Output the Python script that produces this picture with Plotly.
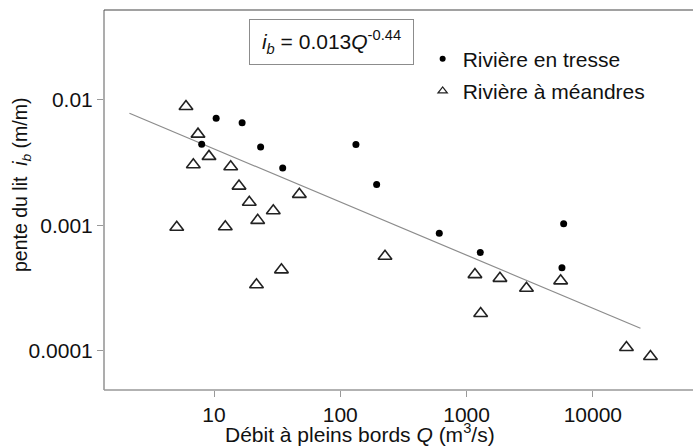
import plotly.graph_objects as go

# Braided rivers (dots)
braided_Q = [10.4, 7.99, 16.7, 23.4, 35.0, 133, 194, 608, 1284, 5871, 5692]
braided_ib = [0.00715, 0.00444, 0.00660, 0.00422, 0.00287, 0.00441, 0.00212,
              0.000868, 0.000608, 0.00103, 0.000460]

# Meandering rivers (triangles)
meander_Q = [6.00, 7.47, 9.13, 6.86, 13.56, 15.78, 19.03, 29.48, 22.18, 5.07, 12.29,
             47.4, 34.2, 21.7, 226, 1165, 1838, 2981, 5559, 1293, 18450, 28580]
meander_ib = [0.00888, 0.00534, 0.00355, 0.00305, 0.00294, 0.00206, 0.00153, 0.00131,
              0.001098, 0.000969, 0.000978, 0.00177, 0.000443, 0.000337, 0.000568,
              0.000406, 0.000379, 0.000316, 0.000362, 0.000199, 0.0001066, 0.0000904]

# Fitted line i_b = 0.013 Q^-0.44 (endpoints as drawn)
fit_Q = [2.14, 23820]
fit_ib = [0.00783, 0.0001516]

x_ticks = [10, 100, 1000, 10000]
x_ticktext = ["10", "100", "1000", "10000"]
y_ticks = [0.01, 0.001, 0.0001]
y_ticktext = ["0.01", "0.001", "0.0001"]

FONT = "Arial, Liberation Sans, sans-serif"
FS = 21

fig = go.Figure()
fig.add_trace(go.Scatter(x=fit_Q, y=fit_ib, mode="lines",
                         line=dict(color="#8c8c8c", width=1.2), showlegend=False,
                         hoverinfo="skip"))
fig.add_trace(go.Scatter(x=braided_Q, y=braided_ib, mode="markers",
                         marker=dict(symbol="circle", size=7, color="black"),
                         showlegend=False))
fig.add_trace(go.Scatter(x=meander_Q, y=meander_ib, mode="markers",
                         marker=dict(symbol="triangle-up-open", size=12, color="#222222",
                                     line=dict(width=1.6, color="#222222")),
                         showlegend=False))
# legend entries
fig.add_trace(go.Scatter(x=[None], y=[None], mode="markers", name="Rivière en tresse",
                         legendgroup="a",
                         marker=dict(symbol="circle", size=6, color="black")))
fig.add_trace(go.Scatter(x=[None], y=[None], mode="markers", name="Rivière à méandres",
                         legendgroup="b",
                         marker=dict(symbol="triangle-up-open", size=8, color="#222222",
                                     line=dict(width=1.3, color="#222222"))))

fig.update_layout(
    width=694, height=448,
    margin=dict(l=104, r=1, t=10, b=58),
    paper_bgcolor="white", plot_bgcolor="white",
    font=dict(family=FONT, size=FS, color="#111111"),
    legend=dict(x=0.541, y=0.925, xanchor="left", yanchor="top",
                bgcolor="rgba(0,0,0,0)", font=dict(size=FS), tracegroupgap=2),
    xaxis=dict(type="log", range=[0.129, 4.793], tickvals=x_ticks, ticktext=x_ticktext,
               ticks="outside", ticklen=6, tickcolor="#999999", tickwidth=1,
               showgrid=False, zeroline=False, showline=False),
    yaxis=dict(type="log", range=[-4.311, -1.283], tickvals=y_ticks, ticktext=y_ticktext,
               ticks="outside", ticklen=6, tickcolor="#999999", tickwidth=1,
               showgrid=False, zeroline=False, showline=False),
    shapes=[
        dict(type="line", xref="paper", yref="paper", x0=0, x1=0, y0=0, y1=1,
             line=dict(color="#999999", width=1.6)),
        dict(type="line", xref="paper", yref="paper", x0=0, x1=1, y0=0, y1=0,
             line=dict(color="#999999", width=1.6)),
        dict(type="line", xref="paper", yref="paper", x0=0, x1=1, y0=1, y1=1,
             line=dict(color="#444444", width=1.2)),
    ],
    annotations=[
        dict(text="<i>i<sub>b</sub></i> = 0.013<i>Q</i><sup>-0.44</sup>",
             xref="paper", yref="paper", x=(331.5 - 104) / 589, y=(390 - 42) / 380,
             xanchor="center", yanchor="middle", showarrow=False,
             width=161, height=42, borderpad=1, borderwidth=1, bordercolor="#8c8c8c",
             bgcolor="white", font=dict(size=FS)),
        dict(text="Débit à pleins bords <i>Q</i> (m<sup>3</sup>/s)",
             xref="paper", yref="paper", x=(360 - 104) / 589, y=(390 - 433) / 380,
             xanchor="center", yanchor="middle", showarrow=False, font=dict(size=21)),
        dict(text="pente du lit\u00a0\u00a0<i>i<sub>b</sub></i> (m/m)",
             xref="paper", yref="paper", x=(21 - 104) / 589, y=(390 - 185) / 380,
             xanchor="center", yanchor="middle", textangle=-90, showarrow=False,
             font=dict(size=19.5)),
    ],
)

fig.write_html("out.html", config={"displayModeBar": False},
               post_script="document.body.style.margin='0';document.body.style.overflow='hidden';")
